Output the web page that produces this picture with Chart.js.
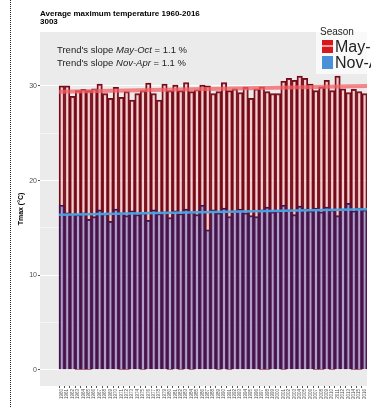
<!DOCTYPE html>
<html>
<head>
<meta charset="utf-8">
<script src="https://cdn.jsdelivr.net/npm/chart.js@4.4.1/dist/chart.umd.min.js"></script>
<style>
  body { margin: 0; width: 371px; height: 407px; overflow: hidden; background: #fff; position: relative; font-family: "Liberation Sans", Arial, sans-serif; }
  #wrap { position: absolute; left: 0; top: 0; width: 371px; height: 407px; }
  .frame { position: absolute; left: 10px; top: 0; height: 407px; border-left: 1px dotted #222; }
  .title { position: absolute; left: 40px; top: 10px; font-size: 8px; font-weight: bold; color: #000; line-height: 8px; white-space: nowrap; }
  .note { position: absolute; left: 57px; top: 43px; font-size: 9.5px; color: #222; line-height: 13px; white-space: nowrap; }
  .legend { position: absolute; left: 316px; top: 26px; width: 80px; height: 48px; background: rgba(255,255,255,0.7); }
  .legend .head { position: absolute; left: 4px; top: 0; font-size: 10px; color: #222; }
  .legend .row { position: absolute; left: 6px; white-space: nowrap; font-size: 16px; color: #222; line-height: 14px; }
  .legend .key { display: inline-block; width: 11px; height: 13px; vertical-align: top; margin-right: 2px; position: relative; }
</style>
</head>
<body>
<div id="wrap"><canvas id="tmax-chart" width="371" height="407"></canvas></div>
<div class="frame"></div>
<div class="title">Average maximum temperature 1960-2016<br>3003</div>
<div class="note">Trend's slope <i>May-Oct</i> = 1.1 %<br>Trend's slope <i>Nov-Apr</i> = 1.1 %</div>
<div class="legend">
  <div class="head">Season</div>
  <div class="row" style="top:14px"><span class="key" style="background:#d7191c"><span style="position:absolute;left:0;right:0;top:5px;height:2px;background:#f4a0a0"></span></span>May-Oct</div>
  <div class="row" style="top:30px"><span class="key" style="background:#4a90d9"></span>Nov-Apr</div>
</div>
<script>
// Years on the x axis
const years = [1960, 1961, 1962, 1963, 1964, 1965, 1966, 1967, 1968, 1969,
    1970, 1971, 1972, 1973, 1974, 1975, 1976, 1977, 1978, 1979,
    1980, 1981, 1982, 1983, 1984, 1985, 1986, 1987, 1988, 1989,
    1990, 1991, 1992, 1993, 1994, 1995, 1996, 1997, 1998, 1999,
    2000, 2001, 2002, 2003, 2004, 2005, 2006, 2007, 2008, 2009,
    2010, 2011, 2012, 2013, 2014, 2015, 2016];

// Average Tmax, May-Oct season (°C)
const mayOct = [30.0, 30.0, 28.9, 29.5, 29.65, 29.5, 29.7, 30.2, 29.2, 28.7,
    29.85, 28.8, 29.4, 28.5, 29.2, 29.5, 30.3, 29.2, 28.5, 30.2,
    29.5, 30.1, 29.5, 30.35, 29.4, 29.6, 30.1, 30.0, 29.2, 29.4,
    30.35, 29.5, 29.7, 29.3, 29.85, 28.7, 29.7, 29.9, 29.4, 29.2,
    29.2, 30.5, 30.8, 30.6, 31.05, 30.8, 30.2, 29.5, 29.9, 30.6,
    29.5, 31.05, 29.7, 29.3, 29.65, 29.4, 29.2];

// Average Tmax, Nov-Apr season (°C)
const novApr = [17.4, 16.6, 16.5, 16.4, 16.6, 15.9, 16.2, 16.9, 16.5, 15.7,
    17.0, 16.6, 16.3, 16.8, 16.4, 16.6, 15.8, 16.9, 16.5, 16.7,
    16.1, 16.8, 16.5, 17.0, 16.7, 16.4, 17.4, 14.8, 16.9, 16.6,
    17.1, 16.2, 16.8, 17.0, 16.6, 16.3, 16.2, 16.9, 17.2, 16.7,
    16.8, 17.4, 16.9, 16.4, 17.3, 17.0, 16.8, 17.1, 16.7, 17.2,
    16.9, 16.3, 17.0, 17.6, 16.8, 17.1, 16.9];

// Tick labels of the y axis (minor ones only get a grid line)
const yTicks = [0, 10, 20, 30];
const yMinor = [5, 15, 25];

// Least squares line through a series, evaluated over the year range
function trendLine(ys) {
    const n = years.length;
    const mx = years.reduce((a, v) => a + v, 0) / n;
    const my = ys.reduce((a, v) => a + v, 0) / n;
    let sxy = 0, sxx = 0;
    years.forEach((x, i) => {
        sxy += (x - mx) * (ys[i] - my);
        sxx += (x - mx) * (x - mx);
    });
    const b = sxy / sxx;
    const x0 = years[0] - 0.5;
    const x1 = years[n - 1] + 0.5;
    return [{ x: x0, y: my + b * (x0 - mx) }, { x: x1, y: my + b * (x1 - mx) }];
}

const toPoints = ys => years.map((x, i) => ({ x: x, y: ys[i] }));

// Gray ggplot-like panel behind the plot area
const panelBg = {
    id: 'panelBg',
    beforeDraw(chart) {
        const { ctx, chartArea: a } = chart;
        ctx.save();
        ctx.fillStyle = '#ebebeb';
        ctx.fillRect(a.left, a.top, a.right - a.left, a.bottom - a.top);
        ctx.restore();
    }
};

const ctx = document.getElementById('tmax-chart').getContext('2d');
new Chart(ctx, {
    type: 'bar',
    data: {
        datasets: [
            {
                type: 'line',
                label: 'trend May-Oct',
                data: trendLine(mayOct),
                borderColor: 'rgba(244, 95, 100, 0.75)',
                borderWidth: 4,
                pointRadius: 0,
                order: 0
            },
            {
                type: 'line',
                label: 'trend Nov-Apr',
                data: trendLine(novApr),
                borderColor: 'rgba(70, 165, 230, 0.95)',
                borderWidth: 2.5,
                pointRadius: 0,
                order: 0
            },
            {
                label: 'Nov-Apr',
                data: toPoints(novApr),
                backgroundColor: 'rgba(75, 85, 185, 0.38)',
                borderColor: '#4a1242',
                borderWidth: 1.3,
                grouped: false,
                barPercentage: 1,
                categoryPercentage: 1,
                order: 1
            },
            {
                label: 'May-Oct',
                data: toPoints(mayOct),
                backgroundColor: 'rgba(255, 120, 130, 0.25)',
                borderColor: '#700a16',
                borderWidth: 1.3,
                grouped: false,
                barPercentage: 1,
                categoryPercentage: 1,
                order: 2
            }
        ]
    },
    options: {
        responsive: false,
        animation: false,
        devicePixelRatio: 1,
        layout: { padding: { left: 0, right: 0, top: 32, bottom: 0 } },
        plugins: {
            legend: { display: false },
            tooltip: { enabled: false }
        },
        scales: {
            x: {
                type: 'linear',
                min: 1956.5,
                max: 2015.92,
                afterBuildTicks: scale => {
                    scale.ticks = years.map(v => ({ value: v }));
                },
                afterFit: scale => { scale.height = 21; },
                ticks: {
                    autoSkip: false,
                    minRotation: 90,
                    maxRotation: 90,
                    padding: 1,
                    color: '#4d4d4d',
                    font: { family: 'Liberation Sans', size: 4.5 },
                    callback: v => String(v)
                },
                grid: { drawOnChartArea: false, tickLength: 2, tickColor: '#555' },
                border: { display: false }
            },
            y: {
                min: -1.7,
                max: 35.7,
                afterBuildTicks: scale => {
                    scale.ticks = yTicks.concat(yMinor).sort((a, b) => a - b).map(v => ({ value: v }));
                },
                afterFit: scale => { scale.width = 40; },
                title: {
                    display: true,
                    text: 'Tmax (°C)',
                    color: '#000',
                    font: { family: 'Liberation Sans', size: 7, weight: 'bold' },
                    padding: { top: 17, bottom: 0 }
                },
                ticks: {
                    padding: 1,
                    color: '#4d4d4d',
                    font: { family: 'Liberation Sans', size: 7 },
                    callback: v => (yTicks.includes(v) ? String(v) : '')
                },
                grid: {
                    color: '#ffffff',
                    lineWidth: c => (yTicks.includes(c.tick && c.tick.value) ? 1.1 : 0.5),
                    tickLength: 2,
                    tickColor: c => (yTicks.includes(c.tick && c.tick.value) ? '#555' : 'rgba(0,0,0,0)')
                },
                border: { display: false }
            }
        }
    },
    plugins: [panelBg]
});
</script>
</body>
</html>
